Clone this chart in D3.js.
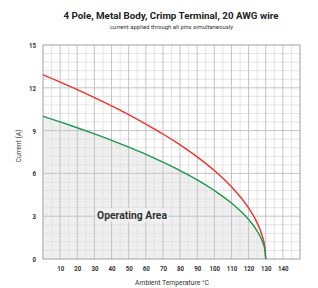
<!DOCTYPE html>
<html>
<head>
<meta charset="utf-8">
<script src="https://cdn.jsdelivr.net/npm/d3@7"></script>
<style>
  body { margin: 0; background: #fff; }
  svg { display: block; }
  text { font-family: "Liberation Sans Narrow", "Arial Narrow", "Roboto", sans-serif; }
</style>
</head>
<body>
<svg id="chart" width="318" height="288"></svg>
<script>
// temperatures (deg C) the curves were read at
const temps = [0, 10, 20, 30, 40, 50, 60, 70, 80, 90, 100, 110, 120, 125, 128, 129.5, 130];
// upper (red) curve
const redCurrent = [12.9, 12.4, 11.87, 11.31, 10.73, 10.12, 9.46, 8.76, 8.0, 7.16, 6.2, 5.06, 3.58, 2.53, 1.6, 0.8, 0];
// lower (green) curve, operating area below it
const greenCurrent = [10.0, 9.61, 9.2, 8.77, 8.32, 7.84, 7.34, 6.79, 6.2, 5.55, 4.8, 3.92, 2.77, 1.96, 1.24, 0.62, 0];

const xTicks = [10, 20, 30, 40, 50, 60, 70, 80, 90, 100, 110, 120, 130, 140];
const yTicks = [0, 3, 6, 9, 12, 15];

const svg = d3.select("#chart");
const mLeft = 43, mRight = 300, mTop = 45, mBottom = 259;

const x = d3.scaleLinear().domain([0, 150]).range([mLeft, mRight]);
const y = d3.scaleLinear().domain([0, 15]).range([mBottom, mTop]);

const data = temps.map((t, i) => ({ t: t, r: redCurrent[i], g: greenCurrent[i] }));

// squeeze text to the narrow width the original font has
function fit(sel, w) {
  return sel.attr("textLength", w).attr("lengthAdjust", "spacingAndGlyphs");
}

// area under green curve
svg.append("path").datum(data)
  .attr("d", d3.area().x(d => x(d.t)).y0(y(0)).y1(d => y(d.g)).curve(d3.curveMonotoneX))
  .attr("fill", "#efefef");

// minor grid
const g = svg.append("g");
g.selectAll(".vmin").data(d3.range(5, 150, 10)).enter().append("line")
  .attr("x1", d => x(d)).attr("x2", d => x(d)).attr("y1", mTop).attr("y2", mBottom)
  .attr("stroke", "#e3e3e3");
g.selectAll(".hmin").data(d3.range(1, 25).map(i => i * 0.6).filter(v => notMajor(v))).enter().append("line")
  .attr("x1", mLeft).attr("x2", mRight).attr("y1", d => y(d)).attr("y2", d => y(d))
  .attr("stroke", "#e3e3e3");
function notMajor(v) { return Math.abs(v / 3 - Math.round(v / 3)) > 0.01; }

// major grid
svg.append("g").selectAll("line").data(d3.range(10, 150, 10)).enter().append("line")
  .attr("x1", d => x(d)).attr("x2", d => x(d)).attr("y1", mTop).attr("y2", mBottom)
  .attr("stroke", "#c4c4c4");
svg.append("g").selectAll("line").data([3, 6, 9, 12]).enter().append("line")
  .attr("x1", mLeft).attr("x2", mRight).attr("y1", d => y(d)).attr("y2", d => y(d))
  .attr("stroke", "#c4c4c4");

// plot frame
svg.append("rect").attr("x", mLeft).attr("y", mTop).attr("width", mRight - mLeft).attr("height", mBottom - mTop)
  .attr("fill", "none").attr("stroke", "#b0b0b0").attr("stroke-width", 1.2);

// operating area label with background box
svg.append("rect").attr("x", 95).attr("y", 208).attr("width", 73).attr("height", 14).attr("fill", "#efefef");
fit(svg.append("text").attr("x", 97).attr("y", 219)
  .attr("font-size", 10).attr("font-weight", "bold").attr("fill", "#333")
  .text("Operating Area"), 70);

// curves
const line = key => d3.line().x(d => x(d.t)).y(d => y(d[key])).curve(d3.curveMonotoneX);
svg.append("path").datum(data).attr("d", line("r")).attr("fill", "none")
  .attr("stroke", "#e8322c").attr("stroke-width", 1.4);
svg.append("path").datum(data).attr("d", line("g")).attr("fill", "none")
  .attr("stroke", "#1c9a4c").attr("stroke-width", 1.4);

// axes
const xAxis = svg.append("g").attr("transform", `translate(0,${mBottom})`)
  .call(d3.axisBottom(x).tickValues(xTicks).tickSize(0).tickPadding(6));
const yAxis = svg.append("g").attr("transform", `translate(${mLeft},0)`)
  .call(d3.axisLeft(y).tickValues(yTicks).tickSize(0).tickPadding(7));
[xAxis, yAxis].forEach(a => {
  a.select(".domain").remove();
  a.attr("font-family", null);
  a.selectAll("text").attr("font-size", 7.5)
    .attr("font-weight", "bold").attr("fill", "#333")
    .each(function (d) { fit(d3.select(this), String(d).length * 3.5); });
});
xAxis.selectAll("text").attr("dy", "0.75em");

// titles
fit(svg.append("text").attr("x", 171).attr("y", 18.5).attr("text-anchor", "middle")
  .attr("font-size", 9.8).attr("font-weight", "bold").attr("fill", "#222")
  .text("4 Pole, Metal Body, Crimp Terminal, 20 AWG wire"), 215);
fit(svg.append("text").attr("x", 171.5).attr("y", 29).attr("text-anchor", "middle")
  .attr("font-size", 5.5).attr("fill", "#333")
  .text("current applied through all pins simultaneously"), 123);
fit(svg.append("text").attr("x", 172).attr("y", 285).attr("text-anchor", "middle")
  .attr("font-size", 6.8).attr("fill", "#333")
  .text("Ambient Temperature °C"), 74);
fit(svg.append("text").attr("transform", "translate(21,146) rotate(-90)").attr("text-anchor", "middle")
  .attr("font-size", 6.8).attr("fill", "#333")
  .text("Current (A)"), 33);
</script>
</body>
</html>
